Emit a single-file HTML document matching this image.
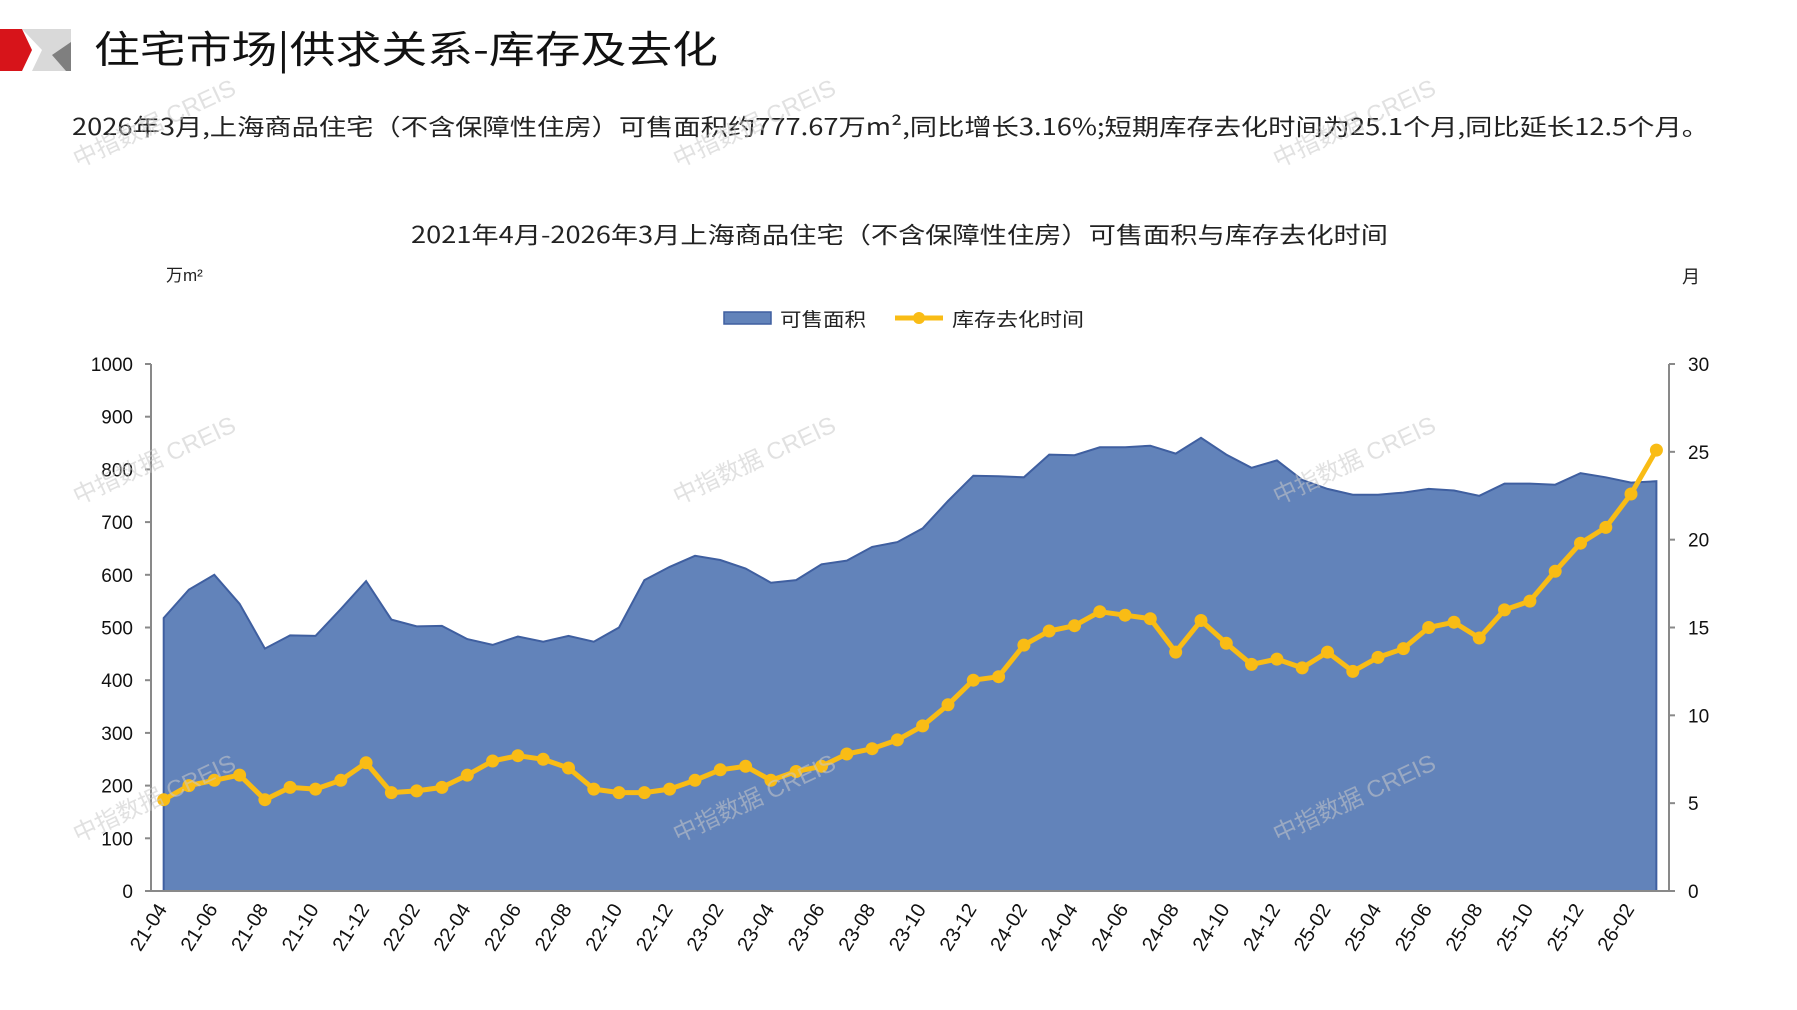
<!DOCTYPE html>
<html><head><meta charset="utf-8"><style>
html,body{margin:0;padding:0;background:#fff;}
svg{display:block;font-family:"Liberation Sans","Noto Sans CJK SC",sans-serif;}
</style></head><body>
<svg id="s" width="1797" height="1010" viewBox="0 0 1797 1010" xmlns="http://www.w3.org/2000/svg">
<rect width="1797" height="1010" fill="#fff"/>
<polygon points="0,29 22,29 32,50 22,71 0,71" fill="#d7141a"/>
<polygon points="22,29 71,29 71,71 32,71 42,50" fill="#d9d9d9"/>
<polygon points="52,55 71,42 71,71 66,71" fill="#7f7f7f"/>
<text x="94" y="63" font-size="38" font-family="'Noto Sans CJK SC','Liberation Sans',sans-serif" fill="#111" textLength="624" lengthAdjust="spacingAndGlyphs">住宅市场|供求关系-库存及去化</text>
<text x="72" y="135" font-size="23" fill="#222" font-family="'Noto Sans CJK SC','Liberation Sans',sans-serif" textLength="1637" lengthAdjust="spacingAndGlyphs">2026年3月,上海商品住宅（不含保障性住房）可售面积约777.67万m²,同比增长3.16%;短期库存去化时间为25.1个月,同比延长12.5个月。</text>
<text x="411" y="243" font-size="23" fill="#222" font-family="'Noto Sans CJK SC','Liberation Sans',sans-serif" textLength="977" lengthAdjust="spacingAndGlyphs">2021年4月-2026年3月上海商品住宅（不含保障性住房）可售面积与库存去化时间</text>
<text x="166" y="281" font-size="17" fill="#222">万m²</text>
<text x="1682" y="283" font-size="18" fill="#222">月</text>
<rect x="724" y="312" width="47" height="12" fill="#6283ba" stroke="#3f5fa0" stroke-width="1.5"/>
<text x="780" y="326" font-size="19" fill="#222" textLength="86" lengthAdjust="spacingAndGlyphs">可售面积</text>
<line x1="895" y1="318" x2="943" y2="318" stroke="#f9bc15" stroke-width="5"/>
<circle cx="919" cy="318" r="6" fill="#f9bc15"/>
<text x="952" y="326" font-size="19" fill="#222" textLength="132" lengthAdjust="spacingAndGlyphs">库存去化时间</text>
<g id="wm" font-size="24" fill="#c8c8c8" fill-opacity="0.55"></g>
<g id="plot"></g>
</svg>
<script>
var A=[518,572,600,545,460,485,484,535,588,515,502,503,478,467,483,473,484,473,500,590,615,636,628,612,585,590,620,627,653,662,688,740,788,787,785,828,827,842,842,845,830,860,828,803,817,780,763,752,752,756,763,760,750,773,773,771,793,785,775,777.67];
var L=[5.2,6.0,6.3,6.6,5.2,5.9,5.8,6.3,7.3,5.6,5.7,5.9,6.6,7.4,7.7,7.5,7.0,5.8,5.6,5.6,5.8,6.3,6.9,7.1,6.3,6.8,7.1,7.8,8.1,8.6,9.4,10.6,12.0,12.2,14.0,14.8,15.1,15.9,15.7,15.5,13.6,15.4,14.1,12.9,13.2,12.7,13.6,12.5,13.3,13.8,15.0,15.3,14.4,16.0,16.5,18.2,19.8,20.7,22.6,25.1];
var X0=151,X1=1669,T=364,B=891,n=60,w=(X1-X0)/n;
function x(i){return X0+w*(i+0.5);}
function ya(v){return B-(B-T)*v/1000;}
function yl(v){return B-(B-T)*v/30;}
var h='';
var p='M'+x(0)+','+B;
for(var i=0;i<n;i++)p+=' L'+x(i).toFixed(1)+','+ya(A[i]).toFixed(1);
p+=' L'+x(n-1)+','+B+' Z';
h+='<path d="'+p+'" fill="#6283ba" stroke="#3f5fa0" stroke-width="2"/>';
var q='';
for(var i=0;i<n;i++)q+=(i?' L':'M')+x(i).toFixed(1)+','+yl(L[i]).toFixed(1);
h+='<path d="'+q+'" fill="none" stroke="#f9bc15" stroke-width="5" stroke-linejoin="round"/>';
for(var i=0;i<n;i++)h+='<circle cx="'+x(i).toFixed(1)+'" cy="'+yl(L[i]).toFixed(1)+'" r="6.5" fill="#f9bc15"/>';
h+='<line x1="'+X0+'" y1="'+T+'" x2="'+X0+'" y2="'+B+'" stroke="#898989" stroke-width="2"/>';
h+='<line x1="'+X1+'" y1="'+T+'" x2="'+X1+'" y2="'+B+'" stroke="#898989" stroke-width="2"/>';
h+='<line x1="'+X0+'" y1="'+B+'" x2="'+X1+'" y2="'+B+'" stroke="#898989" stroke-width="2"/>';
for(var v=0;v<=1000;v+=100){var y=ya(v);h+='<line x1="'+(X0-6)+'" y1="'+y+'" x2="'+X0+'" y2="'+y+'" stroke="#898989" stroke-width="2"/><text x="133" y="'+(y+7)+'" font-size="19" text-anchor="end" fill="#111">'+v+'</text>';}
for(var v=0;v<=30;v+=5){var y=yl(v);h+='<line x1="'+X1+'" y1="'+y+'" x2="'+(X1+6)+'" y2="'+y+'" stroke="#898989" stroke-width="2"/><text x="1688" y="'+(y+7)+'" font-size="19" fill="#111">'+v+'</text>';}
for(var i=0;i<n;i+=2){var yr=21+Math.floor((i+3)/12),m=(i+3)%12+1;var lab=yr+'-'+(m<10?'0':'')+m;var xx=x(i)+4,yy=B+18;h+='<text x="'+xx+'" y="'+yy+'" font-size="20" text-anchor="end" fill="#111" transform="rotate(-58 '+xx+' '+yy+')">'+lab+'</text>';}
document.getElementById('plot').innerHTML=h;
var wm='',pos=[[78,168],[678,168],[1278,168],[78,505],[678,505],[1278,505],[78,843],[678,843],[1278,843]];
pos.forEach(function(p){wm+='<text x="'+p[0]+'" y="'+p[1]+'" transform="rotate(-25 '+p[0]+' '+p[1]+')">中指数据 CREIS</text>';});
document.getElementById('wm').innerHTML=wm;
document.getElementById('s').appendChild(document.getElementById('wm'));
</script>
</body></html>
